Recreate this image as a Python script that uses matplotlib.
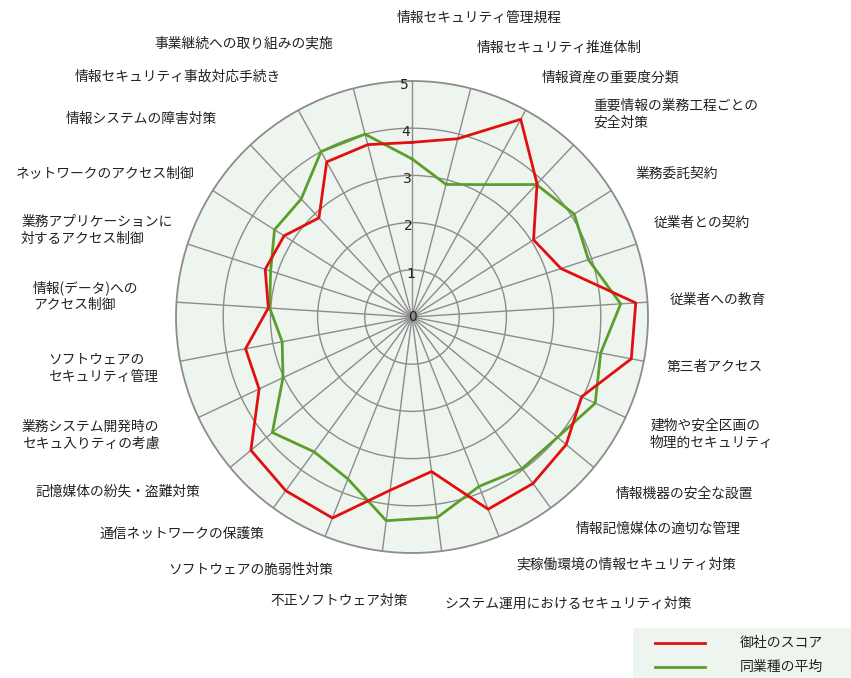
import numpy as np
import matplotlib
matplotlib.use("Agg")
import matplotlib.pyplot as plt
from matplotlib.lines import Line2D
from matplotlib.patches import Rectangle

plt.rcParams['font.family'] = ['Noto Sans CJK JP', 'DejaVu Sans']

categories = [
    "情報セキュリティ管理規程",
    "情報セキュリティ推進体制",
    "情報資産の重要度分類",
    "重要情報の業務工程ごとの\n安全対策",
    "業務委託契約",
    "従業者との契約",
    "従業者への教育",
    "第三者アクセス",
    "建物や安全区画の\n物理的セキュリティ",
    "情報機器の安全な設置",
    "情報記憶媒体の適切な管理",
    "実稼働環境の情報セキュリティ対策",
    "システム運用におけるセキュリティ対策",
    "不正ソフトウェア対策",
    "ソフトウェアの脆弱性対策",
    "通信ネットワークの保護策",
    "記憶媒体の紛失・盗難対策",
    "業務システム開発時の\nセキュ入りティの考慮",
    "ソフトウェアの\nセキュリティ管理",
    "情報(データ)への\nアクセス制御",
    "業務アプリケーションに\n対するアクセス制御",
    "ネットワークのアクセス制御",
    "情報システムの障害対策",
    "情報セキュリティ事故対応手続き",
    "事業継続への取り組みの実施",
]

company_scores = [3.70, 3.90, 4.78, 3.87, 3.05, 3.32, 4.75, 4.73, 3.97, 4.24,
                  4.36, 4.38, 3.30, 3.70, 4.58, 4.55, 4.43, 3.58, 3.59, 3.05,
                  3.27, 3.21, 2.88, 3.75, 3.77]
industry_avg = [3.35, 2.90, 3.20, 3.85, 4.07, 3.93, 4.43, 4.07, 4.29, 4.00,
                3.97, 3.86, 4.28, 4.35, 3.69, 3.53, 3.84, 3.02, 2.80, 3.02,
                3.15, 3.45, 3.43, 4.00, 4.00]

series_names = ["御社のスコア", "同業種の平均"]
scale_ticks = [0, 1, 2, 3, 4, 5]

# label anchor positions in pixels (left x, centre y of first line)
label_pos = [(397, 16), (477, 46), (542, 76), (593, 104), (636, 172),
             (654, 221), (670, 298), (667, 365), (650, 424), (616, 492),
             (576, 527), (516, 562), (445, 602), (270, 599), (168, 568),
             (100, 532), (35, 490), (22, 425), (48, 358), (33, 285),
             (21, 220), (16, 172), (66, 117), (75, 75), (154, 41)]

W, H = 851, 678
fig = plt.figure(figsize=(W / 100, H / 100), dpi=100)
fig.patch.set_facecolor("white")

cx, cy, R = 412, 317, 236
ax = fig.add_axes([(cx - R) / W, (H - cy - R) / H, 2 * R / W, 2 * R / H],
                  projection="polar")
ax.set_theta_zero_location("N")
ax.set_theta_direction(-1)
ax.set_facecolor("#eef5ee")

n = len(categories)
theta = np.arange(n) * 2 * np.pi / n
ax.set_ylim(0, 5)
ax.set_xticks(theta)
ax.set_xticklabels([])
ax.set_yticks(scale_ticks[1:-1])
ax.set_yticklabels([])
ax.grid(True, color="#8c8c8c", linewidth=1.0)
ax.spines["polar"].set_color("#8c8c8c")
ax.spines["polar"].set_linewidth(1.3)

tc = np.append(theta, theta[0])
ax.plot(tc, np.append(company_scores, company_scores[0]), color="#e01010",
        linewidth=2.0, zorder=5)
ax.plot(tc, np.append(industry_avg, industry_avg[0]), color="#5c9e2c",
        linewidth=2.0, zorder=4)

for t in scale_ticks:
    ax.text(-0.035 if t else 0, t - 0.08 if t else 0, str(t), ha="center",
            va="center", fontsize=10, color="#222222", zorder=6,
            family="DejaVu Sans")

for lab, (x, y) in zip(categories, label_pos):
    fig.text(x / W, 1 - (y - 5) / H, lab, ha="left", va="top", fontsize=9.9,
             color="#222222", linespacing=1.25,
             transform=fig.transFigure)

# legend
fig.patches.append(Rectangle((633 / W, 1 - 678 / H), 218 / W, 50 / H,
                             transform=fig.transFigure, facecolor="#eef5ee",
                             edgecolor="none", zorder=0))
for i, (name, col) in enumerate(zip(series_names, ["#e01010", "#5c9e2c"])):
    yy = 1 - (643 + i * 24) / H
    fig.lines.append(Line2D([655 / W, 705 / W], [yy, yy], color=col,
                            linewidth=2.0, transform=fig.transFigure))
    fig.text(740 / W, yy, name, ha="left", va="center", fontsize=10,
             color="#222222")

fig.savefig("out.png", dpi=100)
